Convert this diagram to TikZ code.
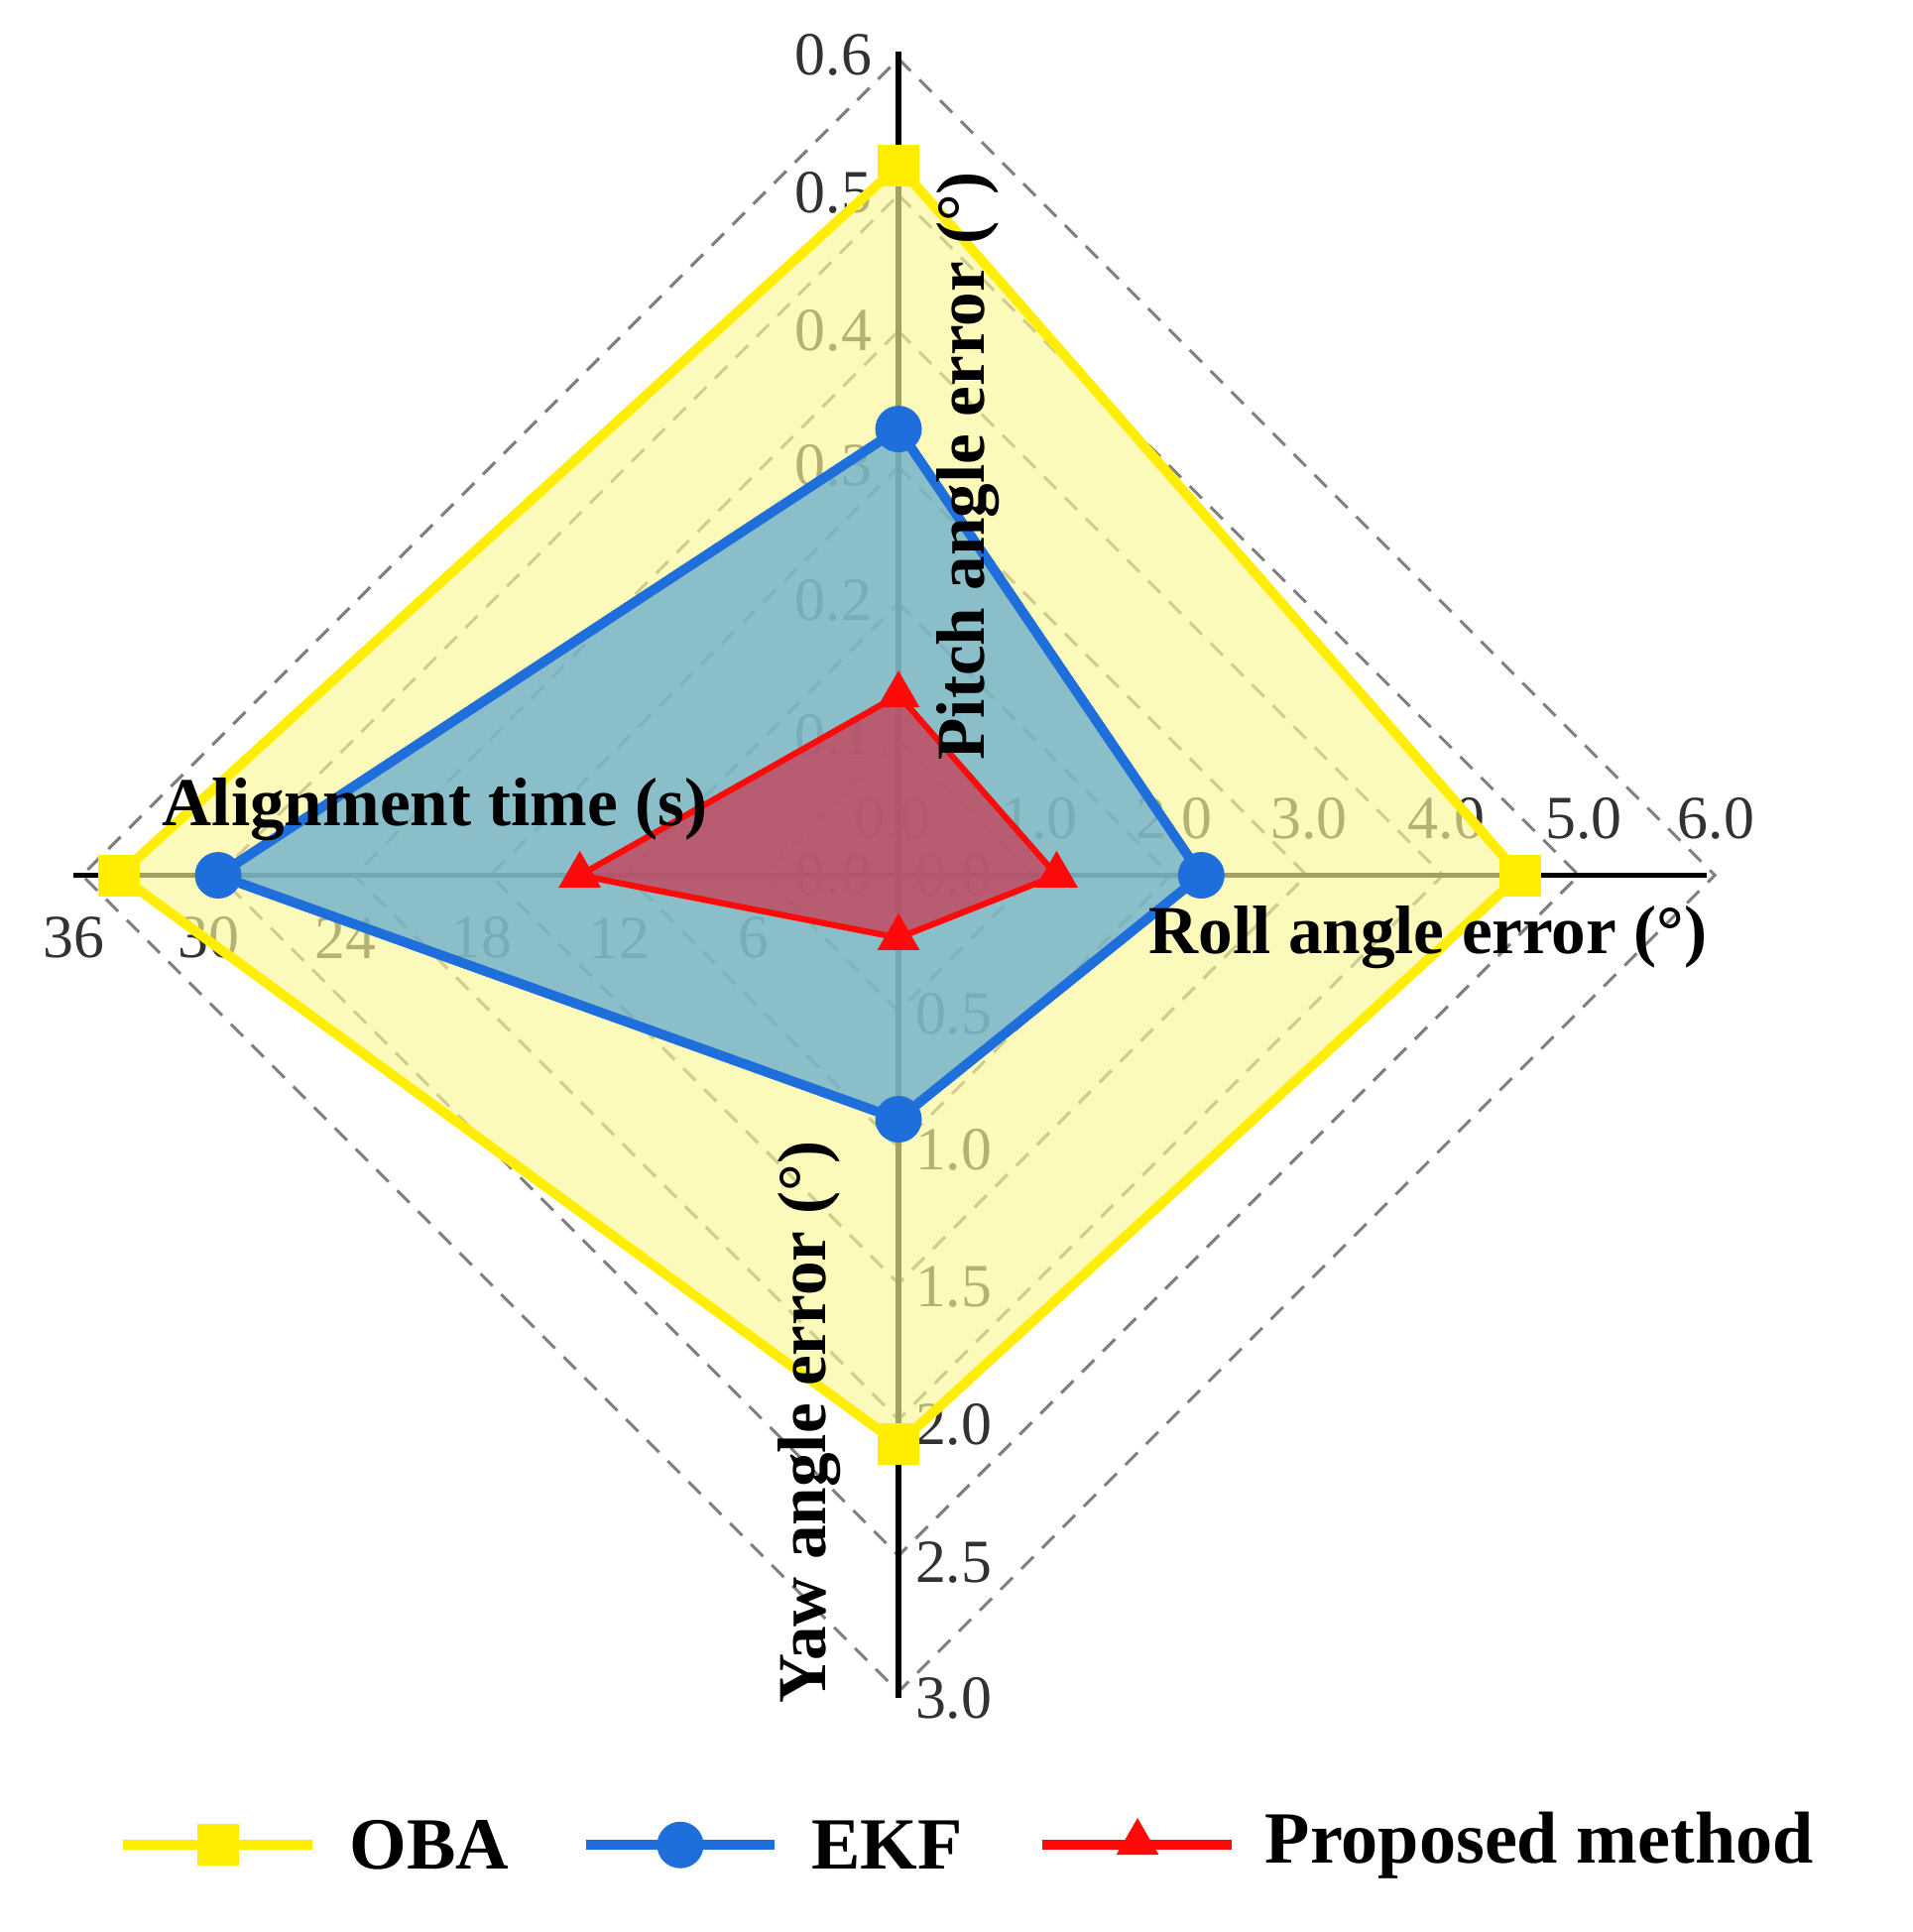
\documentclass[tikz,border=0pt]{standalone}
\usepackage{fontspec}
\setmainfont{Liberation Serif}
\usetikzlibrary{shapes.geometric,calc}
\definecolor{obaY}{RGB}{255,238,0}
\definecolor{obaF}{RGB}{250,248,150}
\definecolor{ekfB}{RGB}{30,110,220}
\definecolor{ekfF}{RGB}{100,170,205}
\definecolor{prR}{RGB}{255,10,10}
\definecolor{prF}{RGB}{200,60,85}
\definecolor{tick}{RGB}{50,50,50}
\tikzset{
 gridl/.style={dashed, dash pattern=on 14pt off 10pt, gray, line width=2.5pt},
 axisl/.style={black, line width=4.5pt},
 ticklab/.style={font=\fontsize{50}{54}\selectfont, text=tick, inner sep=0pt},
 title/.style={font=\bfseries\fontsize{56}{60}\selectfont, inner sep=0pt},
 sqm/.style={rectangle, fill=obaY, minimum size=34pt, inner sep=0pt},
 cim/.style={circle, fill=ekfB, minimum size=38pt, inner sep=0pt},
 trm/.style={isosceles triangle, isosceles triangle apex angle=60, shape border rotate=90, fill=prR, minimum size=30pt, inner sep=0pt},
}
\begin{document}
\begin{tikzpicture}[x=1pt,y=-1pt]
\useasboundingbox (0,0) rectangle (1560,1576);
\coordinate (c) at (733,714);
\foreach \k in {1,...,6}{
 \draw[gridl] ($(c)+(0,-111*\k)$) -- ($(c)+(111*\k,0)$) -- ($(c)+(0,111*\k)$) -- ($(c)+(-111*\k,0)$) -- cycle;
}
\coordinate (top) at (733,42);
\coordinate (bot) at (733,1385);
\coordinate (lft) at (60,714);
\coordinate (rgt) at (1392,714);
\draw[axisl] (top) -- (bot);
\draw[axisl] (lft) -- (rgt);
\foreach \t/\yy in {0.6/45,0.5/157,0.4/270,0.3/380,0.2/490,0.1/600}{\node[ticklab] at (680,\yy) {\t};}
\node[ticklab] (p0) at (728,668) {0.0};
\foreach \t/\xx in {1.0/848,2.0/958,3.0/1068,4.0/1180,5.0/1292,6.0/1400}{\node[ticklab] at (\xx,668) {\t};}
\node[ticklab] at (680,714) {0.0};
\node[ticklab] at (778,714) {0.0};
\foreach \t/\xx in {36/60,30/170,24/282,18/393,12/505,6/615}{\node[ticklab] at (\xx,765) {\t};}
\foreach \t/\yy in {0.5/827,1.0/938,1.5/1050,2.0/1162,2.5/1275,3.0/1385}{\node[ticklab] at (778,\yy) {\t};}
\coordinate (o1) at (733,135); \coordinate (o2) at (1240,714); \coordinate (o3) at (733,1178); \coordinate (o4) at (97,714);
\coordinate (e1) at (733,350); \coordinate (e2) at (980,714); \coordinate (e3) at (733,913); \coordinate (e4) at (178,714);
\coordinate (r1) at (733,567); \coordinate (r2) at (862,714); \coordinate (r3) at (733,765); \coordinate (r4) at (473,714);
\fill[obaF, opacity=0.65] (o1) -- (o2) -- (o3) -- (o4) -- cycle;
\draw[obaY, line width=8pt, line join=miter] (o1) -- (o2) -- (o3) -- (o4) -- cycle;
\fill[ekfF, opacity=0.75] (e1) -- (e2) -- (e3) -- (e4) -- cycle;
\draw[ekfB, line width=8pt, line join=round] (e1) -- (e2) -- (e3) -- (e4) -- cycle;
\fill[prF, opacity=0.75] (r1) -- (r2) -- (r3) -- (r4) -- cycle;
\draw[prR, line width=5pt, line join=round] (r1) -- (r2) -- (r3) -- (r4) -- cycle;
\foreach \p in {o1,o2,o3,o4}{\node[sqm] at (\p) {};}
\foreach \p in {e1,e2,e3,e4}{\node[cim] at (\p) {};}
\foreach \p in {r1,r2,r3,r4}{\node[trm] at (\p) {};}
\node[title, rotate=90] (pt) at (790,380) {Pitch angle error (°)};
\node[title] (rt) at (1165,765) {Roll angle error (°)};
\node[title, rotate=90] (yt) at (660,1160) {Yaw angle error (°)};
\node[title] (at) at (355,660) {Alignment time (s)};
\coordinate (la1) at (100,1505); \coordinate (la2) at (255,1505);
\coordinate (lb1) at (478,1505); \coordinate (lb2) at (632,1505);
\coordinate (lc1) at (850,1505); \coordinate (lc2) at (1005,1505);
\draw[obaY, line width=8pt] (la1) -- (la2);
\node[sqm] (lm1) at (178,1505) {};
\node[title, anchor=west, font=\bfseries\fontsize{60}{64}\selectfont] (l1) at (285,1505) {OBA};
\draw[ekfB, line width=8pt] (lb1) -- (lb2);
\node[cim] (lm2) at (555,1505) {};
\node[title, anchor=west, font=\bfseries\fontsize{60}{64}\selectfont] (l2) at (662,1505) {EKF};
\draw[prR, line width=8pt] (lc1) -- (lc2);
\node[trm] (lm3) at (928,1503) {};
\node[title, anchor=west, font=\bfseries\fontsize{60}{64}\selectfont] (l3) at (1032,1505) {Proposed method};
\end{tikzpicture}
\end{document}
